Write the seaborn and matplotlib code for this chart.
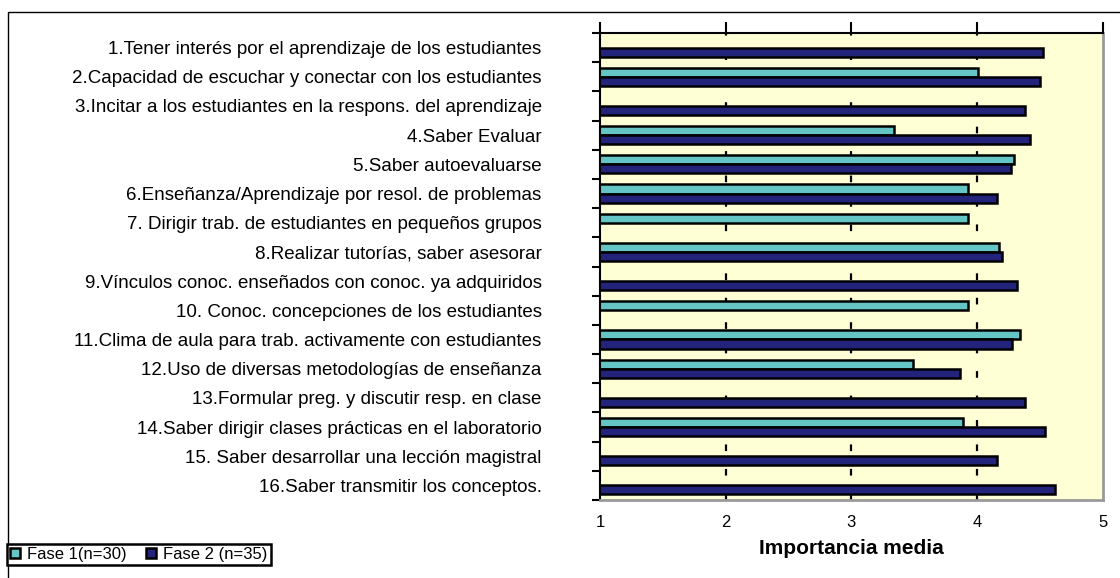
import numpy as np
import pandas as pd
import matplotlib
matplotlib.use('Agg')
import matplotlib.pyplot as plt
import seaborn as sns
from matplotlib.patches import Rectangle

sns.set_style('white')
plt.rcParams['font.family'] = ['Liberation Sans', 'DejaVu Sans']
plt.rcParams['text.color'] = 'black'
plt.rcParams['axes.labelcolor'] = 'black'
plt.rcParams['xtick.color'] = 'black'
plt.rcParams['ytick.color'] = 'black'

# datos
items = [
    '1.Tener interés por el aprendizaje de los estudiantes',
    '2.Capacidad de escuchar y conectar con los estudiantes',
    '3.Incitar a los estudiantes en la respons. del aprendizaje',
    '4.Saber Evaluar',
    '5.Saber autoevaluarse',
    '6.Enseñanza/Aprendizaje por resol. de problemas',
    '7. Dirigir trab. de estudiantes en pequeños grupos',
    '8.Realizar tutorías, saber asesorar',
    '9.Vínculos conoc. enseñados con conoc. ya adquiridos',
    '10. Conoc. concepciones de los estudiantes',
    '11.Clima de aula para trab. activamente con estudiantes',
    '12.Uso de diversas metodologías de enseñanza',
    '13.Formular preg. y discutir resp. en clase',
    '14.Saber dirigir clases prácticas en el laboratorio',
    '15. Saber desarrollar una lección magistral',
    '16.Saber transmitir los conceptos.',
]
fase1 = [np.nan, 4.01, np.nan, 3.34, 4.29, 3.93, 3.93, 4.17,
         np.nan, 3.93, 4.34, 3.49, np.nan, 3.89, np.nan, np.nan]
fase2 = [4.52, 4.50, 4.38, 4.42, 4.27, 4.16, np.nan, 4.20,
         4.32, np.nan, 4.28, 3.86, 4.38, 4.54, 4.16, 4.62]
fases = ['Fase 1(n=30)', 'Fase 2 (n=35)']

df = pd.DataFrame({'item': items, fases[0]: fase1, fases[1]: fase2})
df = df.melt(id_vars='item', var_name='fase', value_name='valor')

fig = plt.figure(figsize=(11.2, 5.78), dpi=100)
ax = fig.add_axes([0.5357, 0.1349, 0.449, 0.808])
ax.set_facecolor('#FFFFD6')

sns.barplot(data=df, y='item', x='valor', hue='fase', orient='h',
            order=items, hue_order=fases, palette=['#55D5D5', '#14148A'],
            width=0.62, edgecolor='black', linewidth=1.8, ax=ax)

# líneas de división punteadas
for v in [2, 3, 4]:
    ax.axvline(v, color='black', linestyle=(0, (3, 8)), linewidth=1.6, zorder=0.5)

ax.set_xlim(1, 5)
ax.set_ylim(len(items) - 0.5, -0.5)
ax.set_xticks([1, 2, 3, 4, 5])
ax.tick_params(axis='x', top=True, bottom=False, labeltop=False, labelbottom=True,
               direction='out', length=8, width=1.5, pad=3, labelsize=12)
ax.set_yticks(range(len(items)))
ax.set_yticklabels(items)
ax.set_yticks(np.arange(-0.5, len(items), 1), minor=True)
ax.tick_params(axis='y', which='major', length=0, pad=42, labelsize=13.5)
ax.tick_params(axis='y', which='minor', left=True, direction='out', length=6, width=1.5)
ax.set_ylabel('')
ax.set_xlabel('Importancia media', fontsize=15, fontweight='bold', labelpad=6)

for s in ['left', 'top']:
    ax.spines[s].set_color('black')
    ax.spines[s].set_linewidth(1.5)
for s in ['right', 'bottom']:
    ax.spines[s].set_color('#9A9A9A')
    ax.spines[s].set_linewidth(2)

handles, labels = ax.get_legend_handles_labels()
ax.get_legend().remove()
leg = fig.legend(handles, labels, loc='lower left', bbox_to_anchor=(0.006, 0.022),
                 ncol=2, fontsize=12, frameon=True, fancybox=False, framealpha=1,
                 handlelength=0.6, handleheight=0.6, handletextpad=0.4,
                 columnspacing=1.2, borderpad=0.2, borderaxespad=0)
leg.get_frame().set_edgecolor('black')
leg.get_frame().set_linewidth(1.8)

# marco del área del gráfico
fig.patches.append(Rectangle((8 / 1120, -0.1), 1.2, 1 - 12 / 578 + 0.1,
                             transform=fig.transFigure, fill=False,
                             edgecolor='black', linewidth=1, zorder=0))

fig.savefig('out.png', dpi=100)
